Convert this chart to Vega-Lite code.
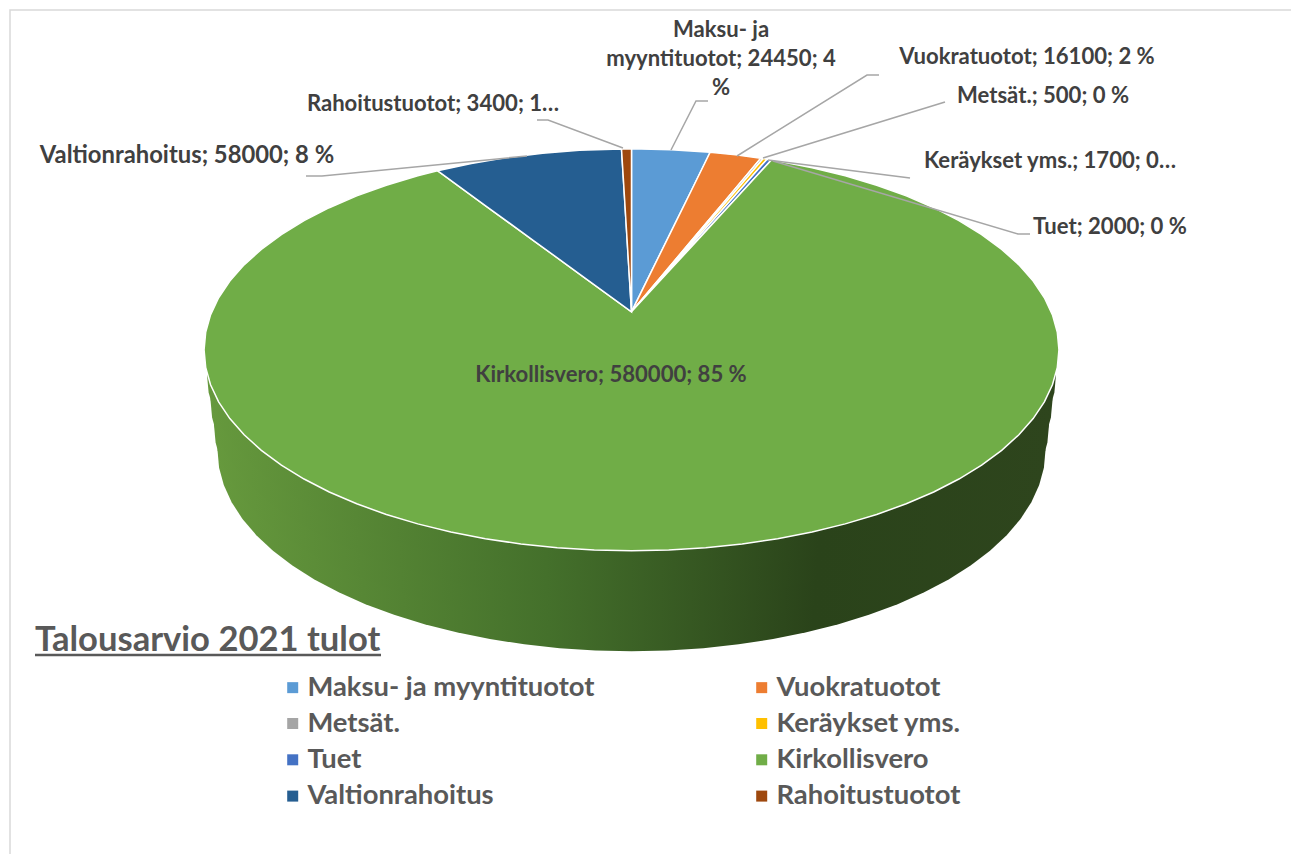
{"$schema":"https://vega.github.io/schema/vega-lite/v6.json","width":1291,"height":854,"padding":0,"autosize":{"type":"none"},"background":"white","config":{"view":{"stroke":null},"font":"Lato"},
"title":{"text":"Talousarvio 2021 tulot","anchor":"start","frame":"group","orient":"top","offset":0,"dx":35,"dy":659,"fontSize":34.6,"fontWeight":"bold","color":"#595959","font":"Lato"},
"datasets":{
"rim":[{"name":"rim","geometry":{"type":"Polygon","coordinates":[[[180,78.5],[175,78.5],[170,78.5],[165,78.5],[160,78.5],[155,78.5],[150,78.5],[145,78.5],[140,78.5],[135,78.5],[130,78.5],[125,78.5],[120,78.5],[115,78.5],[110,78.5],[105,78.5],[100,78.5],[95,78.5],[90,78.5],[85,78.5],[80,78.5],[75,78.5],[70,78.5],[65,78.5],[60,78.5],[55,78.5],[50,78.5],[45,78.5],[40,78.5],[35,78.5],[30,78.5],[25,78.5],[20,78.5],[15,78.5],[10,78.5],[5,78.5],[0,78.5],[-5,78.5],[-10,78.5],[-15,78.5],[-20,78.5],[-25,78.5],[-30,78.5],[-35,78.5],[-40,78.5],[-45,78.5],[-50,78.5],[-55,78.5],[-60,78.5],[-65,78.5],[-70,78.5],[-75,78.5],[-80,78.5],[-85,78.5],[-90,78.5],[-95,78.5],[-100,78.5],[-105,78.5],[-110,78.5],[-115,78.5],[-120,78.5],[-125,78.5],[-130,78.5],[-135,78.5],[-140,78.5],[-145,78.5],[-150,78.5],[-155,78.5],[-160,78.5],[-165,78.5],[-170,78.5],[-175,78.5],[180,78.5]]]}}],
"slices":[
{"name":"Maksu- ja myyntituotot","value":24450,"geometry":{"type":"Polygon","coordinates":[[[0,90],[180,78.5],[174.7,78.5],[169.4,78.5],[168.64,81.965],[168.02,84.929],[167.44,87.578],[0,90]]]}},
{"name":"Vuokratuotot","value":16100,"geometry":{"type":"Polygon","coordinates":[[[0,90],[167.44,87.578],[168.02,84.929],[168.64,81.965],[169.4,78.5],[165.9,78.5],[162.4,78.5],[161.19,81.932],[160.16,84.903],[159.26,87.562],[0,90]]]}},
{"name":"Metsät.","value":500,"geometry":{"type":"Polygon","coordinates":[[[0,90],[159.26,87.562],[160.16,84.903],[161.19,81.932],[162.4,78.5],[162.05,78.5],[160.82,81.93],[159.77,84.9],[158.84,87.56],[0,90]]]}},
{"name":"Keräykset yms.","value":1700,"geometry":{"type":"Polygon","coordinates":[[[0,90],[158.84,87.56],[159.77,84.9],[160.82,81.93],[162.05,78.5],[161.5,78.5],[160.24,81.93],[159.16,84.9],[158.19,87.56],[0,90]]]}},
{"name":"Tuet","value":2000,"geometry":{"type":"Polygon","coordinates":[[[0,90],[158.19,87.56],[159.16,84.9],[160.24,81.93],[161.5,78.5],[160.9,78.5],[159.6,81.932],[158.49,84.895],[157.48,87.557],[0,90]]]}},
{"name":"Kirkollisvero","value":580000,"geometry":{"type":"Polygon","coordinates":[[[0,90],[157.48,87.557],[158.49,84.895],[159.6,81.932],[160.9,78.5],[155,78.5],[150,78.5],[145,78.5],[140,78.5],[135,78.5],[130,78.5],[125,78.5],[120,78.5],[115,78.5],[110,78.5],[105,78.5],[100,78.5],[95,78.5],[90,78.5],[85,78.5],[80,78.5],[75,78.5],[70,78.5],[65,78.5],[60,78.5],[55,78.5],[50,78.5],[45,78.5],[40,78.5],[35,78.5],[30,78.5],[25,78.5],[20,78.5],[15,78.5],[10,78.5],[5,78.5],[0,78.5],[-5,78.5],[-10,78.5],[-15,78.5],[-20,78.5],[-25,78.5],[-30,78.5],[-35,78.5],[-40,78.5],[-45,78.5],[-50,78.5],[-55,78.5],[-60,78.5],[-65,78.5],[-70,78.5],[-75,78.5],[-80,78.5],[-85,78.5],[-90,78.5],[-95,78.5],[-100,78.5],[-105,78.5],[-110,78.5],[-115,78.5],[-120,78.5],[-125,78.5],[-130,78.5],[-135,78.5],[-140,78.5],[-145,78.5],[-150,78.5],[-153,78.5],[-151.24,81.891],[-149.75,84.849],[-148.39,87.527],[0,90]]]}},
{"name":"Valtionrahoitus","value":58000,"geometry":{"type":"Polygon","coordinates":[[[0,90],[-148.39,87.527],[-149.75,84.849],[-151.24,81.891],[-153,78.5],[-158,78.5],[-163,78.5],[-168,78.5],[-173,78.5],[-178.66,78.5],[-178.57,81.96],[-178.49,84.915],[-178.42,87.583],[0,90]]]}},
{"name":"Rahoitustuotot","value":3400,"geometry":{"type":"Polygon","coordinates":[[[0,90],[-178.42,87.583],[-178.49,84.915],[-178.57,81.96],[-178.66,78.5],[180,78.5],[0,90]]]}}
],
"labels":[
{"label":"Maksu- ja\nmyyntituotot; 24450; 4\n%","lx":721,"ly":30},
{"label":"Vuokratuotot; 16100; 2 %","lx":1027,"ly":57},
{"label":"Metsät.; 500; 0 %","lx":1043,"ly":96},
{"label":"Keräykset yms.; 1700; 0…","lx":1050,"ly":161},
{"label":"Tuet; 2000; 0 %","lx":1110,"ly":227},
{"label":"Kirkollisvero; 580000; 85 %","lx":611,"ly":375},
{"label":"Rahoitustuotot; 3400; 1…","lx":433,"ly":104}
],
"labelsLarge":[{"label":"Valtionrahoitus; 58000; 8 %","lx":187,"ly":156}],
"leaders":[
{"s":"Rahoitustuotot","o":1,"lx":537,"ly":120},{"s":"Rahoitustuotot","o":2,"lx":548,"ly":120},{"s":"Rahoitustuotot","o":3,"lx":623,"ly":148},
{"s":"Maksu","o":1,"lx":708,"ly":101},{"s":"Maksu","o":2,"lx":696,"ly":101},{"s":"Maksu","o":3,"lx":671,"ly":150},
{"s":"Vuokra","o":1,"lx":879,"ly":75},{"s":"Vuokra","o":2,"lx":867,"ly":75},{"s":"Vuokra","o":3,"lx":737,"ly":156},
{"s":"Metsät","o":1,"lx":945,"ly":102},{"s":"Metsät","o":2,"lx":763,"ly":158},
{"s":"Keräykset","o":1,"lx":768,"ly":160},{"s":"Keräykset","o":2,"lx":910,"ly":178},
{"s":"Tuet","o":1,"lx":773,"ly":161},{"s":"Tuet","o":2,"lx":1018,"ly":234},{"s":"Tuet","o":3,"lx":1030,"ly":234},
{"s":"Valtion","o":1,"lx":306,"ly":176},{"s":"Valtion","o":2,"lx":322,"ly":176},{"s":"Valtion","o":3,"lx":527,"ly":156}
],
"frame":[{"o":1,"lx":10,"ly":854},{"o":2,"lx":10,"ly":10},{"o":3,"lx":1291,"ly":10}],
"underline":[{"o":1,"lx":35,"ly":655},{"o":2,"lx":381,"ly":655}]
},
"layer":[
{"data":{"name":"rim"},"mark":{"type":"geoshape","stroke":null,"fill":{"gradient":"linear","x1":0,"y1":0,"x2":1,"y2":0,"stops":[{"offset":0,"color":"#66993d"},{"offset":0.4,"color":"#44702b"},{"offset":0.72,"color":"#2a431a"},{"offset":1,"color":"#2e451d"}]}},"projection":{"type":"orthographic","scale":2076.5,"translate":[631.5,2229],"rotate":[0,-29.05,0]},"encoding":{"shape":{"field":"geometry","type":"geojson"}}},
{"data":{"name":"rim"},"mark":{"type":"geoshape","stroke":null,"fill":{"gradient":"linear","x1":0,"y1":0,"x2":1,"y2":0,"stops":[{"offset":0,"color":"#66993d"},{"offset":0.4,"color":"#44702b"},{"offset":0.72,"color":"#2a431a"},{"offset":1,"color":"#2e451d"}]}},"projection":{"type":"orthographic","scale":2094.1,"translate":[631.5,2223.6],"rotate":[0,-28.78,0]},"encoding":{"shape":{"field":"geometry","type":"geojson"}}},
{"data":{"name":"rim"},"mark":{"type":"geoshape","stroke":null,"fill":{"gradient":"linear","x1":0,"y1":0,"x2":1,"y2":0,"stops":[{"offset":0,"color":"#66993d"},{"offset":0.4,"color":"#44702b"},{"offset":0.72,"color":"#2a431a"},{"offset":1,"color":"#2e451d"}]}},"projection":{"type":"orthographic","scale":2111.7,"translate":[631.5,2218.3],"rotate":[0,-28.52,0]},"encoding":{"shape":{"field":"geometry","type":"geojson"}}},
{"data":{"name":"rim"},"mark":{"type":"geoshape","stroke":null,"fill":{"gradient":"linear","x1":0,"y1":0,"x2":1,"y2":0,"stops":[{"offset":0,"color":"#66993d"},{"offset":0.4,"color":"#44702b"},{"offset":0.72,"color":"#2a431a"},{"offset":1,"color":"#2e451d"}]}},"projection":{"type":"orthographic","scale":2129.2,"translate":[631.5,2212.7],"rotate":[0,-28.26,0]},"encoding":{"shape":{"field":"geometry","type":"geojson"}}},
{"data":{"name":"slices"},"mark":{"type":"geoshape","stroke":"white","strokeWidth":1.5},"projection":{"type":"orthographic","scale":2144,"translate":[631.5,2204],"rotate":[0,-28.05,0]},"encoding":{"shape":{"field":"geometry","type":"geojson"},"color":{"field":"name","type":"nominal","scale":{"domain":["Maksu- ja myyntituotot","Metsät.","Tuet","Valtionrahoitus","Vuokratuotot","Keräykset yms.","Kirkollisvero","Rahoitustuotot"],"range":["#5b9bd5","#a5a5a5","#4472c4","#255e91","#ed7d31","#ffc000","#70ad47","#9e480e"]},"legend":{"title":null,"orient":"none","legendX":279,"legendY":673.5,"columns":2,"symbolType":"square","symbolSize":121,"symbolStrokeWidth":0,"labelFont":"Lato","labelFontSize":27.4,"labelFontWeight":"bold","labelColor":"#595959","labelOffset":1,"labelLimit":400,"rowPadding":7.3,"columnPadding":153}}}},
{"data":{"name":"frame"},"mark":{"type":"line","color":"#d9d9d9","strokeWidth":1.5},"encoding":{"x":{"field":"lx","type":"quantitative","scale":{"domain":[0,1291],"range":[0,1291]},"axis":null},"y":{"field":"ly","type":"quantitative","scale":{"domain":[0,854],"range":[0,854]},"axis":null},"order":{"field":"o"}}},
{"data":{"name":"underline"},"mark":{"type":"line","color":"#595959","strokeWidth":2.5},"encoding":{"x":{"field":"lx","type":"quantitative","scale":{"domain":[0,1291],"range":[0,1291]},"axis":null},"y":{"field":"ly","type":"quantitative","scale":{"domain":[0,854],"range":[0,854]},"axis":null},"order":{"field":"o"}}},
{"data":{"name":"leaders"},"mark":{"type":"line","color":"#a6a6a6","strokeWidth":1.5},"encoding":{"x":{"field":"lx","type":"quantitative","scale":{"domain":[0,1291],"range":[0,1291]},"axis":null},"y":{"field":"ly","type":"quantitative","scale":{"domain":[0,854],"range":[0,854]},"axis":null},"detail":{"field":"s"},"order":{"field":"o"}}},
{"data":{"name":"labels"},"mark":{"type":"text","font":"Lato","fontSize":22.1,"fontWeight":"bold","color":"#404040","align":"center","baseline":"middle","lineBreak":"\n","lineHeight":29},"encoding":{"x":{"field":"lx","type":"quantitative","scale":{"domain":[0,1291],"range":[0,1291]},"axis":null},"y":{"field":"ly","type":"quantitative","scale":{"domain":[0,854],"range":[0,854]},"axis":null},"text":{"field":"label"}}},
{"data":{"name":"labelsLarge"},"mark":{"type":"text","font":"Lato","fontSize":23.8,"fontWeight":"bold","color":"#404040","align":"center","baseline":"middle"},"encoding":{"x":{"field":"lx","type":"quantitative","scale":{"domain":[0,1291],"range":[0,1291]},"axis":null},"y":{"field":"ly","type":"quantitative","scale":{"domain":[0,854],"range":[0,854]},"axis":null},"text":{"field":"label"}}}
]}
